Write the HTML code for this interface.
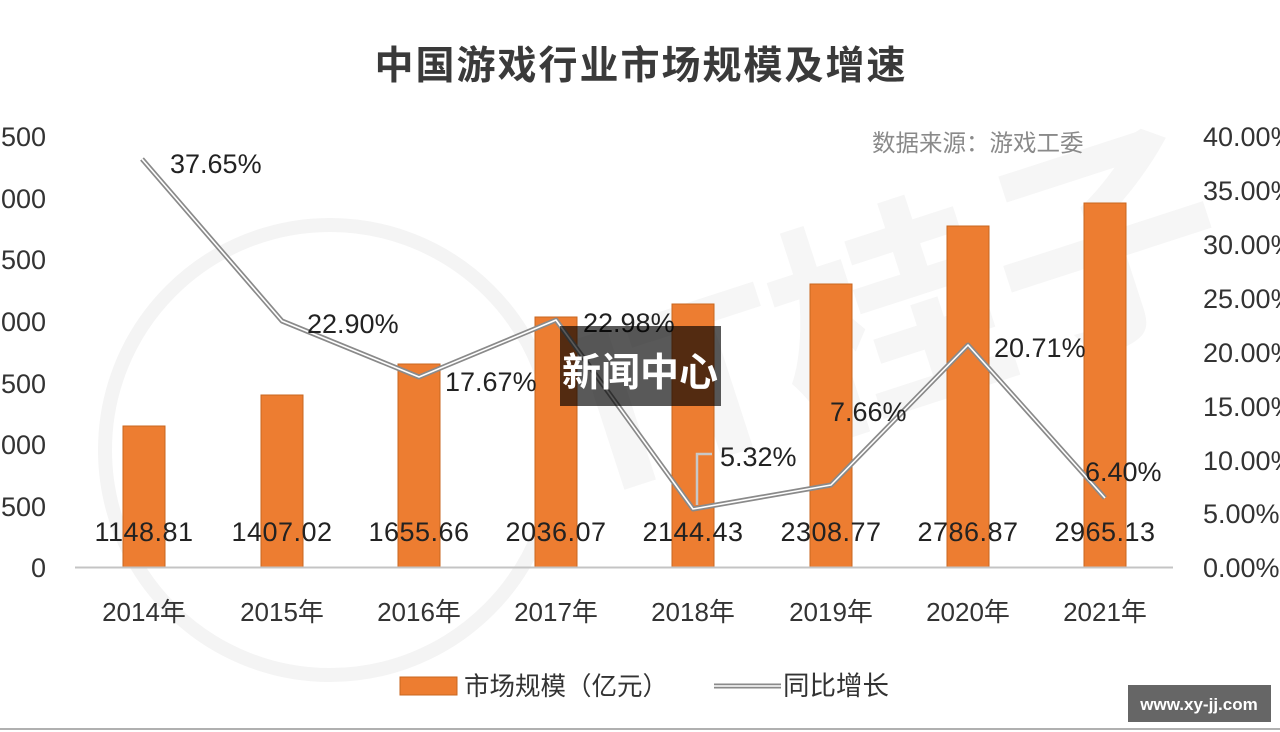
<!DOCTYPE html>
<html>
<head>
<meta charset="utf-8">
<style>
  html,body{margin:0;padding:0;background:#fff;}
  body{width:1280px;height:732px;overflow:hidden;}
  svg{display:block;}
  text{font-family:"Liberation Sans","Noto Sans CJK SC",sans-serif;}
</style>
</head>
<body>
<svg width="1280" height="732" viewBox="0 0 1280 732" xmlns="http://www.w3.org/2000/svg">
  <rect x="0" y="0" width="1280" height="732" fill="#ffffff"/>

  <!-- faint watermark -->
  <g>
    <circle cx="330" cy="450" r="225" fill="none" stroke="#f4f4f4" stroke-width="14"/>
    <text x="560" y="420" font-size="230" fill="#f6f6f6" transform="rotate(-18 820 300)" font-weight="bold">IT桂子</text>
  </g>

  <!-- title -->
  <text x="641" y="79" text-anchor="middle" font-size="39" font-weight="bold" fill="#3a3a3a" letter-spacing="2">中国游戏行业市场规模及增速</text>

  <!-- source -->
  <text x="872" y="151" font-size="23.5" fill="#8a8a8a">数据来源：游戏工委</text>

  <!-- left axis labels -->
  <g font-size="27" fill="#333" text-anchor="end">
    <text x="46" y="146">3500</text>
    <text x="46" y="208">3000</text>
    <text x="46" y="269">2500</text>
    <text x="46" y="331">2000</text>
    <text x="46" y="393">1500</text>
    <text x="46" y="454">1000</text>
    <text x="46" y="516">500</text>
    <text x="46" y="577">0</text>
  </g>

  <!-- right axis labels -->
  <g font-size="27" fill="#333" text-anchor="start">
    <text x="1203" y="146">40.00%</text>
    <text x="1203" y="200">35.00%</text>
    <text x="1203" y="254">30.00%</text>
    <text x="1203" y="308">25.00%</text>
    <text x="1203" y="362">20.00%</text>
    <text x="1203" y="416">15.00%</text>
    <text x="1203" y="470">10.00%</text>
    <text x="1203" y="523">5.00%</text>
    <text x="1203" y="577">0.00%</text>
  </g>

  <!-- bars -->
  <g fill="#ED7D31" stroke="#c8661f" stroke-width="1">
    <rect x="123" y="426" width="42" height="141"/>
    <rect x="261" y="395" width="42" height="172"/>
    <rect x="398" y="364" width="42" height="203"/>
    <rect x="535" y="317" width="42" height="250"/>
    <rect x="672" y="304" width="42" height="263"/>
    <rect x="810" y="284" width="42" height="283"/>
    <rect x="947" y="226" width="42" height="341"/>
    <rect x="1084" y="203" width="42" height="364"/>
  </g>

  <!-- axis line -->
  <line x1="75" y1="567.5" x2="1173" y2="567.5" stroke="#c4c4c4" stroke-width="2"/>

  <!-- bar data labels -->
  <g font-size="27" fill="#222" text-anchor="middle" letter-spacing="0.5">
    <text x="144" y="541">1148.81</text>
    <text x="282" y="541">1407.02</text>
    <text x="419" y="541">1655.66</text>
    <text x="556" y="541">2036.07</text>
    <text x="693" y="541">2144.43</text>
    <text x="831" y="541">2308.77</text>
    <text x="968" y="541">2786.87</text>
    <text x="1105" y="541">2965.13</text>
  </g>

  <!-- leader line for 5.32% -->
  <polyline points="697,505 697,454 712,454" fill="none" stroke="#c8c8c8" stroke-width="2.5"/>

  <!-- growth line (double) -->
  <polyline points="142,159 282,321 419,377 556,320 693,509 831,485 968,345 1105,498" fill="none" stroke="#8a8a8a" stroke-width="5" stroke-linejoin="round"/>
  <polyline points="142,159 282,321 419,377 556,320 693,509 831,485 968,345 1105,498" fill="none" stroke="#ffffff" stroke-width="1.6" stroke-linejoin="round"/>

  <!-- percent labels -->
  <g font-size="27" fill="#222">
    <text x="170" y="173">37.65%</text>
    <text x="307" y="333">22.90%</text>
    <text x="445" y="391">17.67%</text>
    <text x="583" y="332">22.98%</text>
    <text x="720" y="466">5.32%</text>
    <text x="830" y="421">7.66%</text>
    <text x="994" y="357">20.71%</text>
    <text x="1085" y="481">6.40%</text>
  </g>

  <!-- x labels -->
  <g font-size="26" fill="#333" text-anchor="middle">
    <text x="144" y="621">2014年</text>
    <text x="282" y="621">2015年</text>
    <text x="419" y="621">2016年</text>
    <text x="556" y="621">2017年</text>
    <text x="693" y="621">2018年</text>
    <text x="831" y="621">2019年</text>
    <text x="968" y="621">2020年</text>
    <text x="1105" y="621">2021年</text>
  </g>

  <!-- legend -->
  <rect x="400" y="677" width="57" height="18" fill="#ED7D31" stroke="#c8661f" stroke-width="1"/>
  <text x="464" y="695" font-size="25.5" fill="#333">市场规模（亿元）</text>
  <line x1="714" y1="686" x2="781" y2="686" stroke="#8a8a8a" stroke-width="5"/>
  <line x1="714" y1="686" x2="781" y2="686" stroke="#ffffff" stroke-width="1.6"/>
  <text x="783" y="695" font-size="26.5" fill="#333">同比增长</text>

  <!-- overlay box -->
  <rect x="560" y="326" width="161" height="80" fill="#000" fill-opacity="0.65"/>
  <text x="640" y="386" text-anchor="middle" font-size="39" font-weight="bold" fill="#ffffff">新闻中心</text>

  <!-- site badge -->
  <rect x="1128" y="685" width="143" height="37" fill="#666666"/>
  <text x="1199" y="710" text-anchor="middle" font-size="17" font-weight="bold" fill="#ffffff">www.xy-jj.com</text>

  <!-- bottom border -->
  <rect x="0" y="728" width="1280" height="2" fill="#b0b0b0"/>
</svg>
</body>
</html>
